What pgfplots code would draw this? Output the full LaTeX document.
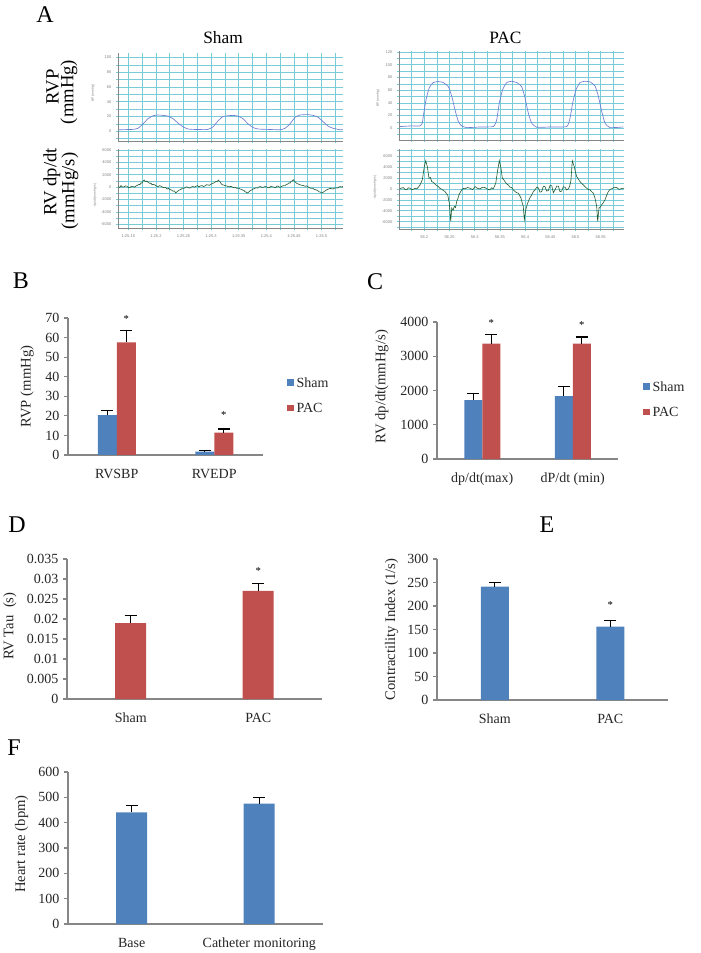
\documentclass[border=0pt]{standalone}
\usepackage{fontspec}
\setmainfont{Liberation Serif}
\setsansfont{Liberation Sans}
\usepackage{pgfplots}
\pgfplotsset{compat=1.18}
\definecolor{shamblue}{RGB}{79,129,189}
\definecolor{pacred}{RGB}{192,80,77}
\definecolor{gridmaj}{RGB}{120,204,215}
\definecolor{axgray}{RGB}{134,134,134}
\definecolor{txt}{RGB}{38,38,38}
\definecolor{rvpline}{RGB}{110,125,210}
\definecolor{dpline}{RGB}{30,90,45}

\pgfplotsset{
  trace/.style={
    scale only axis, anchor=north west,
    axis x line*=bottom, axis y line*=left,
    axis line style={draw=axgray,line width=0.4pt,-},
    grid=major,
    grid style={color=gridmaj,line width=0.45pt},
    major grid style={color=gridmaj,line width=0.45pt},
    major tick style={color=gridmaj,line width=0.45pt},
    tick align=outside, major tick length=1.5pt,
    ticklabel style={font=\sffamily\fontsize{3}{3.5}\selectfont, text=gray},
  },
  barax/.style={
    scale only axis, anchor=north west,
    axis x line*=bottom, axis y line*=left,
    axis line style={draw=axgray, line width=0.8pt,-},
    ymin=0, xmin=-0.5, xmax=1.5, xtick={0,1},
    major x tick style={draw=none},
    y tick style={draw=axgray, line width=0.8pt},
    tick align=outside, major tick length=3pt,
    ticklabel style={font=\fontsize{10.5}{12}\selectfont, text=txt},
    xticklabel style={yshift=-4pt},
    label style={font=\fontsize{11}{13}\selectfont, text=txt},
    scaled y ticks=false,
    /pgf/number format/assume math mode=true,
    /pgf/number format/set thousands separator={},
    ybar, clip=false,
  },
  eb/.style={
    /pgfplots/error bars/y dir=plus,
    /pgfplots/error bars/y explicit,
    /pgfplots/error bars/error bar style={black,line width=0.8pt},
    /pgfplots/error bars/error mark options={black,rotate=90,mark size=4.5pt,line width=0.8pt},
  },
}
\newcommand{\starfont}{\fontsize{8}{8}\selectfont}
\newcommand{\legfont}{\fontsize{10.5}{12}\selectfont}

\begin{document}
\begin{tikzpicture}
\path[use as bounding box] (0,0) rectangle (525pt,-714.75pt);

% ---------- Panel A ----------
\node[font=\fontsize{18}{18}\selectfont] at (33.75pt,-11.25pt) {A};
\node[font=\fontsize{13}{13}\selectfont] at (167.25pt,-28.5pt) {Sham};
\node[font=\fontsize{13}{13}\selectfont] at (379.1pt,-28.1pt) {PAC};
\node[font=\fontsize{14}{14}\selectfont, rotate=90] at (39.4pt,-65.25pt) {RVP};
\node[font=\fontsize{14}{14}\selectfont, rotate=90] at (51.75pt,-69pt) {(mmHg)};
\node[font=\fontsize{14}{14}\selectfont, rotate=90] at (39pt,-136.5pt) {RV dp/dt};
\node[font=\fontsize{14}{14}\selectfont, rotate=90] at (52.5pt,-143.25pt) {(mmHg/s)};
\node[font=\sffamily\fontsize{2.5}{3}\selectfont, text=gray, rotate=90] at (69.75pt,-69.75pt) {BP (mmHg)};
\node[font=\sffamily\fontsize{2.5}{3}\selectfont, text=gray, rotate=90] at (71.25pt,-146.25pt) {dp/dt (mmHg/s)};
\node[font=\sffamily\fontsize{2.5}{3}\selectfont, text=gray, rotate=90] at (283.5pt,-73.5pt) {BP (mmHg)};
\node[font=\sffamily\fontsize{2.5}{3}\selectfont, text=gray, rotate=90] at (281.25pt,-140.25pt) {dp/dt (mmHg/s)};

\begin{axis}[trace, at={(88.5pt,-39.75pt)}, width=168.75pt, height=66.3pt,
  xmin=0.1313, xmax=0.5389, ymin=-13.8, ymax=106.1,
  xtick={0.15,0.175,0.2,0.225,0.25,0.275,0.3,0.325,0.35,0.375,0.4,0.425,0.45,0.475,0.5,0.525}, xticklabels={},
  ytick={-10,0,10,20,30,40,50,60,70,80,90,100},
  yticklabels={,0,,20,,40,,60,,80,,100}]
\addplot[rvpline, line width=0.5pt, smooth, tension=0.3] coordinates {
(0.1331,2) (0.1585,2.5) (0.1676,4) (0.1766,10) (0.1857,17) (0.1948,21) (0.2038,22) (0.2129,21.5) (0.2219,20.5) (0.2310,17) (0.2401,11) (0.2491,6) (0.2582,3) (0.2672,2.5) (0.2854,2.2) (0.2944,2.5) (0.3035,6) (0.3125,14) (0.3216,20) (0.3307,21) (0.3397,21.5) (0.3488,20.5) (0.3578,17) (0.3669,10) (0.3760,5) (0.3850,3) (0.4013,2.5) (0.4249,2) (0.4339,4) (0.4430,10) (0.4521,19) (0.4611,22) (0.4738,22.5) (0.4847,21.5) (0.4937,19) (0.5028,13) (0.5119,7) (0.5209,4) (0.5336,2) (0.5390,2)};
\end{axis}

\begin{axis}[trace, at={(88.5pt,-111.75pt)}, width=168.75pt, height=59.5pt,
  xmin=0.1313, xmax=0.5389, ymin=-6646, ymax=6160,
  xtick={0.15,0.175,0.2,0.225,0.25,0.275,0.3,0.325,0.35,0.375,0.4,0.425,0.45,0.475,0.5,0.525},
  xticklabels={1:25.15,,1:25.2,,1:25.25,,1:25.3,,1:25.35,,1:25.4,,1:25.45,,1:25.5,},
  ytick={-6000,-5000,-4000,-3000,-2000,-1000,0,1000,2000,3000,4000,5000,6000},
  yticklabels={-6000,,-4000,,-2000,,0,,2000,,4000,,6000}]
\addplot[dpline, line width=0.45pt] coordinates {
(0.1319,100) (0.1343,-50) (0.1368,250) (0.1395,0) (0.1422,50) (0.1449,200) (0.1476,150) (0.1503,-100) (0.1531,-50) (0.1558,150) (0.1585,100) (0.1612,0) (0.1640,200) (0.1667,300) (0.1694,450) (0.1712,400) (0.1730,700) (0.1748,650) (0.1766,1000) (0.1790,1150) (0.1805,950) (0.1821,900) (0.1839,1000) (0.1857,800) (0.1875,700) (0.1893,600) (0.1911,650) (0.1929,400) (0.1956,450) (0.1984,350) (0.2011,150) (0.2038,100) (0.2065,250) (0.2093,150) (0.2120,0) (0.2147,-100) (0.2174,-50) (0.2201,-300) (0.2228,-200) (0.2256,-400) (0.2283,-450) (0.2310,-650) (0.2335,-600) (0.2359,-950) (0.2380,-750) (0.2401,-600) (0.2428,-450) (0.2455,-350) (0.2482,-150) (0.2509,-200) (0.2536,0) (0.2564,50) (0.2591,-100) (0.2618,-150) (0.2645,50) (0.2672,100) (0.2700,0) (0.2727,150) (0.2754,250) (0.2781,50) (0.2808,200) (0.2835,250) (0.2863,100) (0.2890,200) (0.2917,400) (0.2944,350) (0.2971,300) (0.2999,500) (0.3026,600) (0.3053,700) (0.3071,800) (0.3089,950) (0.3110,900) (0.3131,1150) (0.3146,1000) (0.3162,850) (0.3180,600) (0.3198,400) (0.3225,350) (0.3252,250) (0.3280,200) (0.3307,100) (0.3334,50) (0.3361,150) (0.3388,0) (0.3415,-100) (0.3442,-50) (0.3470,-200) (0.3497,-150) (0.3524,-300) (0.3551,-350) (0.3578,-500) (0.3597,-550) (0.3615,-750) (0.3636,-800) (0.3656,-950) (0.3680,-800) (0.3705,-600) (0.3733,-450) (0.3760,-300) (0.3787,-200) (0.3814,-100) (0.3841,-150) (0.3868,50) (0.3896,100) (0.3923,-50) (0.3950,0) (0.3977,100) (0.4004,50) (0.4031,-100) (0.4059,-50) (0.4086,150) (0.4113,50) (0.4140,0) (0.4167,-100) (0.4194,200) (0.4222,100) (0.4249,-50) (0.4276,100) (0.4303,250) (0.4330,200) (0.4358,400) (0.4385,500) (0.4412,700) (0.4430,650) (0.4448,950) (0.4469,1000) (0.4490,1200) (0.4515,900) (0.4539,700) (0.4566,550) (0.4593,450) (0.4620,350) (0.4647,300) (0.4675,250) (0.4702,150) (0.4729,200) (0.4756,50) (0.4783,-100) (0.4811,-200) (0.4838,-150) (0.4865,-350) (0.4892,-400) (0.4919,-500) (0.4937,-600) (0.4955,-750) (0.4980,-800) (0.5004,-950) (0.5025,-850) (0.5046,-700) (0.5073,-550) (0.5100,-400) (0.5128,-300) (0.5155,-200) (0.5182,-250) (0.5209,-300) (0.5236,-150) (0.5264,-100) (0.5291,-150) (0.5318,50) (0.5345,100) (0.5372,0) (0.5390,150)};
\end{axis}

\begin{axis}[trace, at={(299.25pt,-38.6pt)}, width=168.75pt, height=66.4pt,
  xmin=0.1498, xmax=0.5962, ymin=-18.5, ymax=121,
  xtick={0.175,0.2,0.225,0.25,0.275,0.3,0.325,0.35,0.375,0.4,0.425,0.45,0.475,0.5,0.525,0.55,0.575}, xticklabels={},
  ytick={-10,0,10,20,30,40,50,60,70,80,90,100,110,120},
  yticklabels={,0,,20,,40,,60,,80,,100,,120}]
\addplot[rvpline, line width=0.5pt, smooth, tension=0.3] coordinates {
(0.1518,2.7) (0.1750,3.7) (0.1915,3.7) (0.1960,8) (0.1980,18.7) (0.2034,45) (0.2099,64) (0.2179,72) (0.2278,73.6) (0.2377,72) (0.2476,65.6) (0.2544,50.7) (0.2609,29) (0.2675,10.7) (0.2742,3.7) (0.2841,1) (0.3105,2) (0.3369,2.7) (0.3436,13) (0.3488,40) (0.3555,61) (0.3635,72) (0.3734,74) (0.3833,72) (0.3932,65.6) (0.3998,48) (0.4063,24) (0.4131,8) (0.4230,1.6) (0.4494,2) (0.4825,2.7) (0.4891,16) (0.4944,40) (0.5010,61) (0.5089,72) (0.5188,74) (0.5288,73) (0.5387,66.7) (0.5452,50.7) (0.5520,26.7) (0.5585,8) (0.5684,1) (0.5948,2)};
\end{axis}

\begin{axis}[trace, at={(299.25pt,-112pt)}, width=168.75pt, height=60pt,
  xmin=0.1498, xmax=0.5962, ymin=-7388, ymax=7224,
  xtick={0.175,0.2,0.225,0.25,0.275,0.3,0.325,0.35,0.375,0.4,0.425,0.45,0.475,0.5,0.525,0.55,0.575},
  xticklabels={,56.2,,56.25,,56.3,,56.35,,56.4,,56.45,,56.5,,56.55,},
  ytick={-7000,-6000,-5000,-4000,-3000,-2000,-1000,0,1000,2000,3000,4000,5000,6000,7000},
  yticklabels={,-6000,,-4000,,-2000,,0,,2000,,4000,,6000,}]
\addplot[dpline, line width=0.45pt] coordinates {
(0.1518,0) (0.1550,150) (0.1583,240) (0.1617,-100) (0.1651,-180) (0.1683,200) (0.1716,120) (0.1750,-150) (0.1782,-60) (0.1815,100) (0.1849,0) (0.1882,300) (0.1915,730) (0.1960,1640) (0.2000,4060) (0.2028,5150) (0.2060,4060) (0.2093,1940) (0.2120,2100) (0.2147,1330) (0.2180,1200) (0.2212,900) (0.2245,600) (0.2278,420) (0.2310,100) (0.2345,-60) (0.2378,-300) (0.2411,-480) (0.2440,-900) (0.2464,-1090) (0.2496,-2600) (0.2524,-5940) (0.2544,-3500) (0.2570,-3900) (0.2595,-3200) (0.2620,-3400) (0.2643,-2300) (0.2665,-1800) (0.2688,-1090) (0.2715,-600) (0.2742,-180) (0.2775,100) (0.2807,0) (0.2857,250) (0.2907,120) (0.2957,-150) (0.3006,420) (0.3055,100) (0.3105,0) (0.3155,300) (0.3204,240) (0.3253,-50) (0.3303,-180) (0.3336,200) (0.3369,0) (0.3417,1030) (0.3456,3450) (0.3488,5150) (0.3522,3760) (0.3548,1940) (0.3575,1700) (0.3601,1330) (0.3634,900) (0.3667,730) (0.3700,300) (0.3734,240) (0.3767,-200) (0.3800,-480) (0.3832,-700) (0.3865,-790) (0.3892,-1200) (0.3919,-1700) (0.3940,-2500) (0.3964,-3200) (0.3984,-5640) (0.4012,-3820) (0.4037,-3000) (0.4063,-2300) (0.4097,-1600) (0.4131,-1090) (0.4163,-500) (0.4196,-180) (0.4229,300) (0.4262,200) (0.4295,-600) (0.4329,-500) (0.4362,500) (0.4395,400) (0.4428,-400) (0.4460,-300) (0.4494,600) (0.4528,600) (0.4560,-700) (0.4593,-200) (0.4626,500) (0.4659,500) (0.4692,-500) (0.4726,-400) (0.4759,400) (0.4792,300) (0.4825,-200) (0.4857,0) (0.4885,500) (0.4910,1640) (0.4936,5150) (0.4976,4060) (0.5000,3000) (0.5024,2240) (0.5056,1800) (0.5089,1330) (0.5122,1000) (0.5155,730) (0.5188,400) (0.5222,120) (0.5255,-100) (0.5288,-180) (0.5320,-500) (0.5353,-790) (0.5387,-1700) (0.5420,-3200) (0.5440,-5940) (0.5466,-3500) (0.5493,-3300) (0.5520,-2900) (0.5552,-2500) (0.5585,-2000) (0.5618,-1200) (0.5651,-480) (0.5684,-100) (0.5718,0) (0.5767,300) (0.5817,240) (0.5866,-100) (0.5916,60) (0.5962,120)};
\end{axis}

% ---------- Panel B ----------
\node[font=\fontsize{18}{18}\selectfont] at (15.75pt,-210.75pt) {B};
\begin{axis}[barax, at={(51pt,-238.5pt)}, width=146.25pt, height=102.75pt,
  ymax=70, ytick={0,10,20,30,40,50,60,70},
  ybar=0pt, bar width=14.25pt,
  xticklabels={RVSBP,RVEDP},
  ylabel={RVP (mmHg)},
  ylabel style={at={(axis description cs:-0.21,0.5)}, anchor=center}]
\addplot[fill=shamblue, draw=none, eb] coordinates {(0,20.4) +- (0,2.1) (1,1.7) +- (0,0.7)};
\addplot[fill=pacred, draw=none, eb] coordinates {(0,57.6) +- (0,5.8) (1,11.4) +- (0,1.9)};
\node[font=\starfont, inner sep=0pt, xshift=7.125pt] at (axis cs:0,69.3) {*};
\node[font=\starfont, inner sep=0pt, xshift=7.125pt] at (axis cs:1,20.4) {*};
\fill[shamblue] ([yshift=-2.6pt]axis description cs:1.123,0.526) rectangle ++(5.25pt,5.2pt);
\node[anchor=west, font=\legfont, text=txt, inner sep=0pt] at ([xshift=7pt]axis description cs:1.123,0.526) {Sham};
\fill[pacred] ([yshift=-2.6pt]axis description cs:1.123,0.343) rectangle ++(5.25pt,5.2pt);
\node[anchor=west, font=\legfont, text=txt, inner sep=0pt] at ([xshift=7pt]axis description cs:1.123,0.343) {PAC};
\end{axis}

% ---------- Panel C ----------
\node[font=\fontsize{18}{18}\selectfont] at (281.25pt,-211.5pt) {C};
\begin{axis}[barax, at={(327.75pt,-241.5pt)}, width=135.75pt, height=102.75pt,
  ymax=4000, ytick={0,1000,2000,3000,4000},
  ybar=0pt, bar width=13.5pt,
  xticklabels={dp/dt(max),dP/dt (min)},
  ylabel={RV dp/dt(mmHg/s)},
  ylabel style={at={(axis description cs:-0.305,0.528)}, anchor=center}]
\addplot[fill=shamblue, draw=none, eb] coordinates {(0,1718) +- (0,195) (1,1835) +- (0,291)};
\addplot[fill=pacred, draw=none, eb] coordinates {(0,3369) +- (0,272) (1,3369) +- (0,194)};
\node[font=\starfont, inner sep=0pt, xshift=6.75pt] at (axis cs:0,3980) {*};
\node[font=\starfont, inner sep=0pt, xshift=6.75pt] at (axis cs:1,3912) {*};
\fill[shamblue] ([yshift=-2.6pt]axis description cs:1.138,0.526) rectangle ++(5.25pt,5.2pt);
\node[anchor=west, font=\legfont, text=txt, inner sep=0pt] at ([xshift=7pt]axis description cs:1.138,0.526) {Sham};
\fill[pacred] ([yshift=-2.6pt]axis description cs:1.138,0.343) rectangle ++(5.25pt,5.2pt);
\node[anchor=west, font=\legfont, text=txt, inner sep=0pt] at ([xshift=7pt]axis description cs:1.138,0.343) {PAC};
\end{axis}

% ---------- Panel D ----------
\node[font=\fontsize{18}{18}\selectfont] at (12.75pt,-393.75pt) {D};
\begin{axis}[barax, at={(50.25pt,-419.25pt)}, width=191.25pt, height=105pt,
  ymax=0.035, ytick={0,0.005,0.01,0.015,0.02,0.025,0.03,0.035},
  yticklabels={0,0.005,0.01,0.015,0.02,0.025,0.03,0.035},
  bar width=23.25pt,
  xticklabels={Sham,PAC},
  ylabel={RV Tau\ \ (s)},
  ylabel style={at={(axis description cs:-0.224,0.52)}, anchor=center}]
\addplot[fill=pacred, draw=none, eb] coordinates {(0,0.01897) +- (0,0.0019) (1,0.02704) +- (0,0.0018)};
\node[font=\starfont, inner sep=0pt] at (axis cs:1,0.0321) {*};
\end{axis}

% ---------- Panel E ----------
\node[font=\fontsize{18}{18}\selectfont] at (410.25pt,-393.75pt) {E};
\begin{axis}[barax, at={(327.75pt,-419.25pt)}, width=173.25pt, height=105.75pt,
  ymax=300, ytick={0,50,100,150,200,250,300},
  bar width=21pt,
  xticklabels={Sham,PAC},
  ylabel={Contractility Index (1/s)},
  ylabel style={at={(axis description cs:-0.196,0.5)}, anchor=center}]
\addplot[fill=shamblue, draw=none, eb] coordinates {(0,241.1) +- (0,8.5) (1,156) +- (0,12.8)};
\node[font=\starfont, inner sep=0pt] at (axis cs:1,202) {*};
\end{axis}

% ---------- Panel F ----------
\node[font=\fontsize{18}{18}\selectfont] at (10.5pt,-561pt) {F};
\begin{axis}[barax, at={(51pt,-579pt)}, width=191.25pt, height=114pt,
  ymax=600, ytick={0,100,200,300,400,500,600},
  bar width=23.25pt,
  xticklabels={Base,Catheter monitoring},
  ylabel={Heart rate (bpm)},
  ylabel style={at={(axis description cs:-0.182,0.526)}, anchor=center}]
\addplot[fill=shamblue, draw=none, eb] coordinates {(0,441) +- (0,26) (1,475) +- (0,26)};
\end{axis}
\end{tikzpicture}
\end{document}
